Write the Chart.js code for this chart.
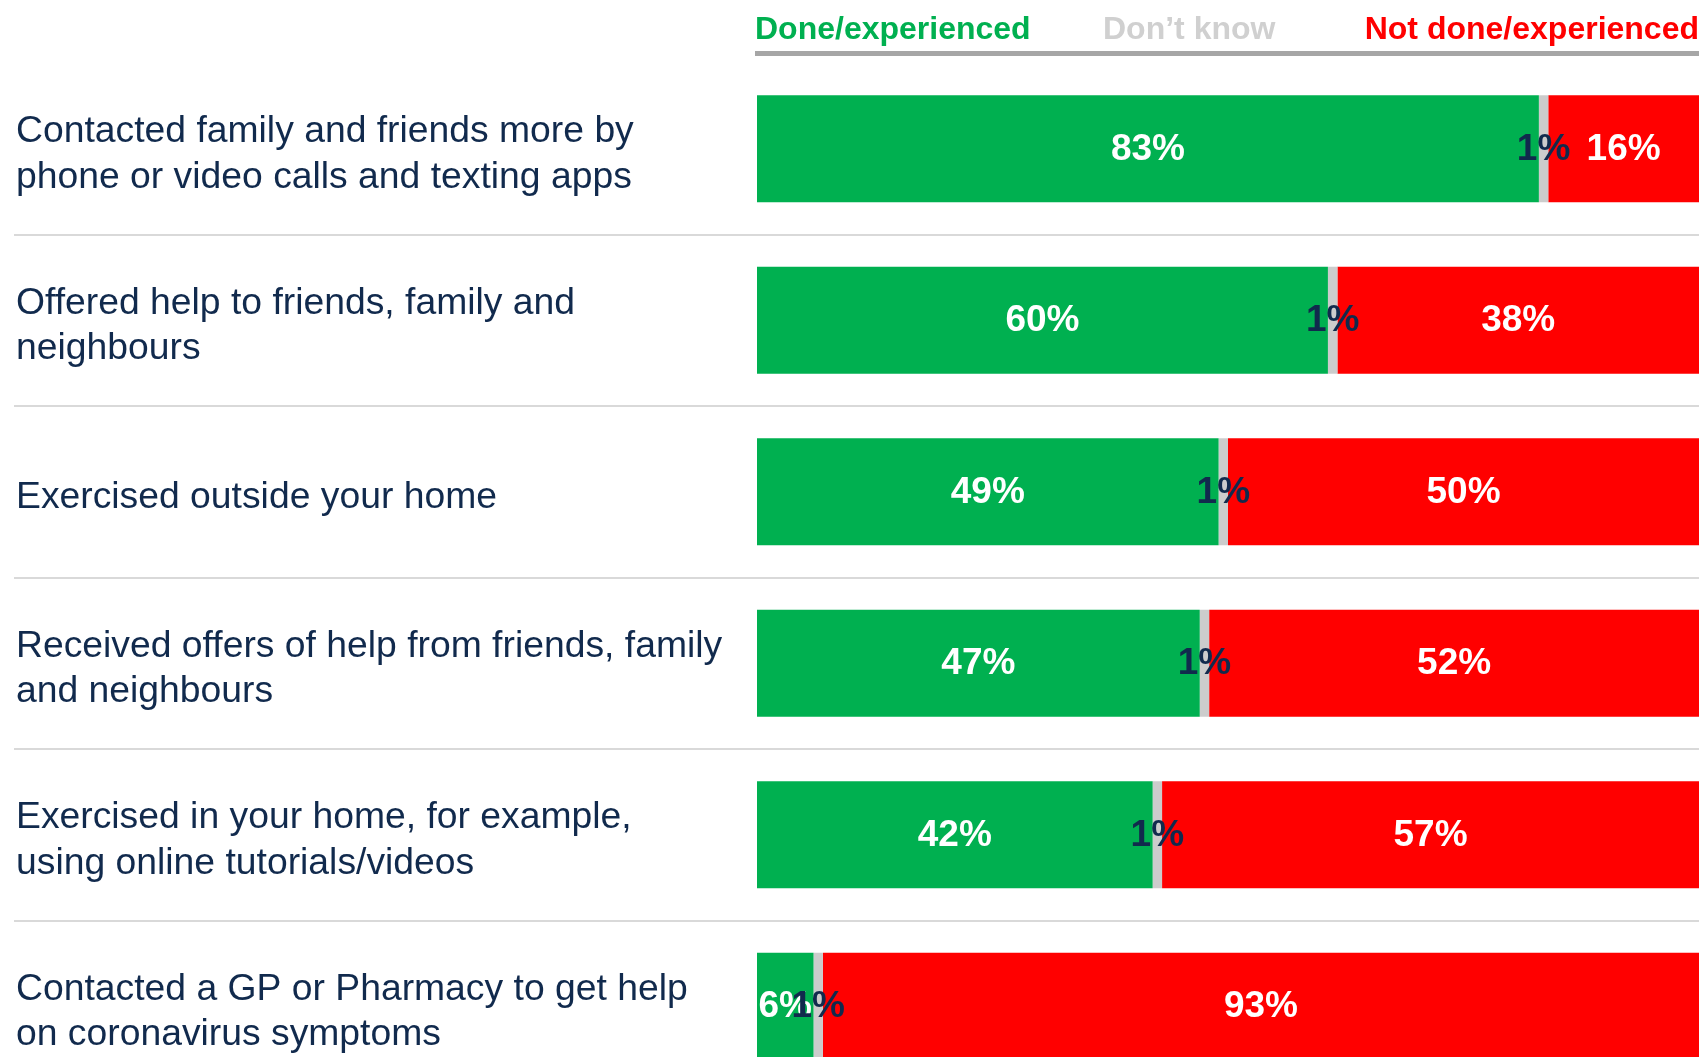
<!DOCTYPE html>
<html>
<head>
<meta charset="utf-8">
<script src="https://cdn.jsdelivr.net/npm/chart.js@4/dist/chart.umd.min.js"></script>
<style>
  html, body { margin: 0; padding: 0; background: #fff; overflow: hidden; }
  #wrap { position: relative; width: 1704px; height: 1057px; overflow: hidden; }
  #surveyChart { position: absolute; left: 0; top: 0; }
  .key { position: absolute; top: 10px; line-height: 36px; font: bold 32px "Liberation Sans", Arial, sans-serif; white-space: nowrap; }
  #keyLine { position: absolute; left: 755px; top: 51px; width: 944px; height: 5px; background: #a6a6a6; }
</style>
</head>
<body>
<div id="wrap">
  <canvas id="surveyChart" width="1704" height="1092"></canvas>
  <div class="key" style="left:755px;color:#00b050">Done/experienced</div>
  <div class="key" style="left:1103px;color:#d0d0d0">Don’t know</div>
  <div class="key" style="right:5px;color:#ff0000">Not done/experienced</div>
  <div id="keyLine"></div>
</div>
<script>
const activities = [
    ['Contacted family and friends more by', 'phone or video calls and texting apps'],
    ['Offered help to friends, family and', 'neighbours'],
    ['Exercised outside your home'],
    ['Received offers of help from friends, family', 'and neighbours'],
    ['Exercised in your home, for example,', 'using online tutorials/videos'],
    ['Contacted a GP or Pharmacy to get help', 'on coronavirus symptoms']
];
const doneValues = [83, 60, 49, 47, 42, 6];
const dontKnowValues = [1, 1, 1, 1, 1, 1];
const notDoneValues = [16, 38, 50, 52, 57, 93];

// each row is drawn as a share of its own total, so every bar fills the width
const rowTotals = doneValues.map((v, i) => v + dontKnowValues[i] + notDoneValues[i]);
const share = arr => arr.map((v, i) => v / rowTotals[i] * 100);

const navy = '#112a4d';

const barLabels = {
    id: 'barLabels',
    afterDatasetsDraw(chart) {
        const ctx = chart.ctx;
        ctx.save();
        ctx.font = 'bold 37px "Liberation Sans", Arial, sans-serif';
        ctx.textAlign = 'center';
        ctx.textBaseline = 'middle';
        chart.data.datasets.forEach((ds, di) => {
            chart.getDatasetMeta(di).data.forEach((bar, i) => {
                ctx.fillStyle = ds.labelColor;
                const x = (bar.x + bar.base) / 2;
                ctx.fillText(ds.raw[i] + '%', x, bar.y + 1);
            });
        });
        ctx.restore();
    }
};

const rowSeparators = {
    id: 'rowSeparators',
    beforeDatasetsDraw(chart) {
        const y = chart.scales.y;
        const ctx = chart.ctx;
        ctx.save();
        ctx.strokeStyle = '#d9d9d9';
        ctx.lineWidth = 2;
        for (let i = 0; i < activities.length - 1; i++) {
            const py = Math.round((y.getPixelForValue(i) + y.getPixelForValue(i + 1)) / 2);
            ctx.beginPath();
            ctx.moveTo(14, py);
            ctx.lineTo(chart.chartArea.right, py);
            ctx.stroke();
        }
        ctx.restore();
    }
};

new Chart(document.getElementById('surveyChart'), {
    type: 'bar',
    data: {
        labels: activities,
        datasets: [
            { label: 'Done/experienced', data: share(doneValues), raw: doneValues, backgroundColor: '#00b050', labelColor: '#ffffff' },
            { label: 'Don’t know', data: share(dontKnowValues), raw: dontKnowValues, backgroundColor: '#cccccc', labelColor: navy },
            { label: 'Not done/experienced', data: share(notDoneValues), raw: notDoneValues, backgroundColor: '#ff0000', labelColor: '#ffffff' }
        ]
    },
    options: {
        indexAxis: 'y',
        responsive: false,
        animation: false,
        barPercentage: 0.624,
        categoryPercentage: 1,
        layout: { padding: { left: 16, right: 5, top: 63, bottom: 0 } },
        plugins: {
            legend: { display: false },
            tooltip: { enabled: false }
        },
        scales: {
            x: {
                stacked: true,
                min: 0,
                max: 100,
                display: false
            },
            y: {
                stacked: true,
                grid: { display: false },
                border: { display: false },
                afterFit: s => {
                    s.width = 741;
                    s.paddingTop = 0;
                    s.paddingBottom = 0;
                },
                ticks: {
                    crossAlign: 'far',
                    labelOffset: 6,
                    color: navy,
                    font: { family: '"Liberation Sans", Arial, sans-serif', size: 37.3, lineHeight: 1.22 }
                }
            }
        }
    },
    plugins: [rowSeparators, barLabels]
});
</script>
</body>
</html>
